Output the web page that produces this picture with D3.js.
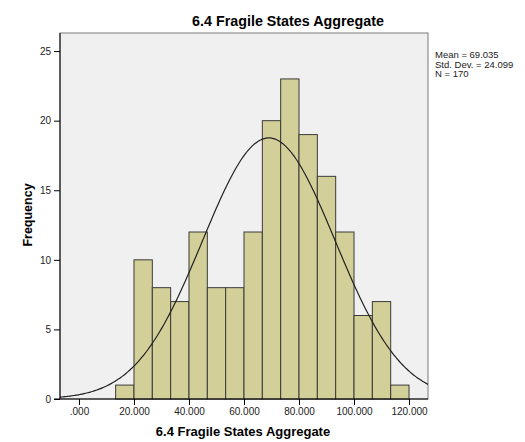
<!DOCTYPE html>
<html>
<head>
<meta charset="utf-8">
<script src="https://cdn.jsdelivr.net/npm/d3@7"></script>
<style>
  body { margin: 0; background: #fff; }
  text { font-family: "Liberation Sans", Arial, sans-serif; }
</style>
</head>
<body>
<svg id="viz"></svg>
<script>
(function () {
    // histogram bins (lower edges) and counts
    let binWidth = 20 / 3
    let binStarts = [13.333, 20, 26.667, 33.333, 40, 46.667, 53.333, 60, 66.667, 73.333, 80, 86.667, 93.333, 100, 106.667, 113.333]
    let counts = [1, 10, 8, 7, 12, 8, 8, 12, 20, 23, 19, 16, 12, 6, 7, 1]
    let xTicks = [0, 20, 40, 60, 80, 100, 120]
    let yTicks = [0, 5, 10, 15, 20, 25]
    let stats = { mean: 69.035, sd: 24.099, n: 170 }
    let statLines = ['Mean = 69.035', 'Std. Dev. = 24.099', 'N = 170']
    let titleText = '6.4 Fragile States Aggregate'

    let config = {
        w: 525,
        h: 442,
        plot: { left: 60, right: 428, top: 33, bottom: 399 },
        xDomain: [-6.9, 126.9],
        yDomain: [0, 26.3]
    }

    let svg = d3.select('#viz')
        .attr('width', config.w)
        .attr('height', config.h)

    let p = config.plot
    let xScale = d3.scaleLinear().domain(config.xDomain).range([p.left, p.right])
    let yScale = d3.scaleLinear().domain(config.yDomain).range([p.bottom, p.top])

    // plot background + frame
    svg.append('rect')
        .attr('x', p.left)
        .attr('y', p.top)
        .attr('width', p.right - p.left)
        .attr('height', p.bottom - p.top)
        .attr('fill', '#f0f0f0')
        .attr('stroke', '#7a7a7a')
        .attr('stroke-width', 1)

    // bars
    svg.append('g').selectAll('rect')
        .data(counts)
        .join('rect')
        .attr('x', (d, i) => xScale(binStarts[i]))
        .attr('y', d => yScale(d))
        .attr('width', (d, i) => xScale(binStarts[i] + binWidth) - xScale(binStarts[i]))
        .attr('height', d => yScale(0) - yScale(d))
        .attr('fill', '#d3cf98')
        .attr('stroke', '#3a3a3a')
        .attr('stroke-width', 1)

    // normal curve
    let pts = d3.range(0, 201).map(i => {
        let x = config.xDomain[0] + (config.xDomain[1] - config.xDomain[0]) * i / 200
        let z = (x - stats.mean) / stats.sd
        let y = stats.n * binWidth * Math.exp(-0.5 * z * z) / (stats.sd * Math.sqrt(2 * Math.PI))
        return [x, y]
    })
    svg.append('path')
        .datum(pts)
        .attr('d', d3.line().x(d => xScale(d[0])).y(d => yScale(d[1])).curve(d3.curveBasis))
        .attr('fill', 'none')
        .attr('stroke', '#222')
        .attr('stroke-width', 1.2)

    // axes
    let fmt = d3.format('.3f')
    let xAxis = svg.append('g')
        .attr('transform', 'translate(0,' + p.bottom + ')')
        .call(d3.axisBottom(xScale).tickValues(xTicks).tickSize(6).tickSizeOuter(0)
            .tickFormat(d => d === 0 ? '.000' : fmt(d)))
    xAxis.select('.domain').remove()
    xAxis.append('line')
        .attr('x1', p.left - 6).attr('x2', p.right)
        .attr('stroke', '#000')
    let yAxis = svg.append('g')
        .attr('transform', 'translate(' + p.left + ',0)')
        .call(d3.axisLeft(yScale).tickValues(yTicks).tickSize(6).tickSizeOuter(0))
    yAxis.select('.domain').remove()
    yAxis.append('line')
        .attr('y1', p.top).attr('y2', p.bottom)
        .attr('stroke', '#000')

    svg.selectAll('.tick line').attr('stroke', '#000')
    svg.selectAll('.tick text')
        .attr('fill', '#222')
        .style('font-size', '10px')

    // title
    svg.append('text')
        .attr('x', 288)
        .attr('y', 26)
        .attr('text-anchor', 'middle')
        .style('font-size', '14.3px')
        .style('font-weight', 'bold')
        .text(titleText)

    // x label
    svg.append('text')
        .attr('x', 243)
        .attr('y', 436)
        .attr('text-anchor', 'middle')
        .style('font-size', '13px')
        .style('font-weight', 'bold')
        .text(titleText)

    // y label
    svg.append('text')
        .attr('transform', 'translate(32,215) rotate(-90)')
        .attr('text-anchor', 'middle')
        .style('font-size', '12.5px')
        .style('font-weight', 'bold')
        .text('Frequency')

    // stats box text
    svg.append('g').selectAll('text')
        .data(statLines)
        .join('text')
        .attr('x', 435)
        .attr('y', (d, i) => 58 + i * 9.5)
        .style('font-size', '9.5px')
        .attr('fill', '#222')
        .text(d => d)
})()
</script>
</body>
</html>
